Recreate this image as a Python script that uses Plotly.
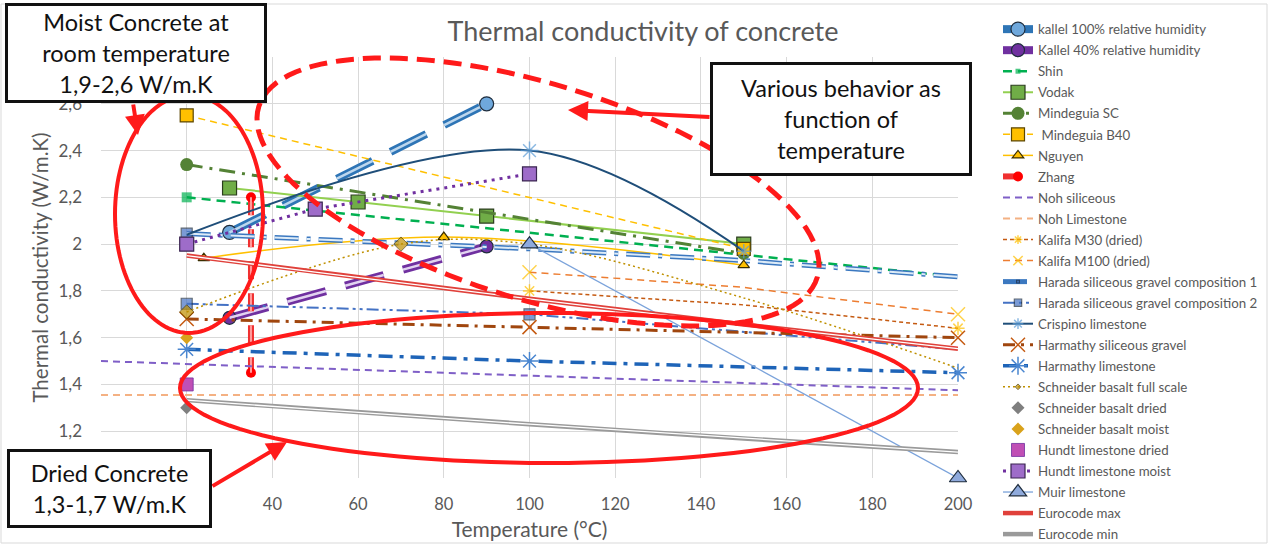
import math
import plotly.graph_objects as go

# ---------------- data ----------------
x_ticks = [0, 20, 40, 60, 80, 100, 120, 140, 160, 180, 200]
# labels at 0 and 20 are hidden behind the "Dried Concrete" box in the reference
x_ticktext = ["", "", "40", "60", "80", "100", "120", "140", "160", "180", "200"]
y_ticks = [1.0, 1.2, 1.4, 1.6, 1.8, 2.0, 2.2, 2.4, 2.6, 2.8]
# labels at 1 and 2,8 are hidden behind the text boxes in the reference
y_ticktext = ["", "1,2", "1,4", "1,6", "1,8", "2", "2,2", "2,4", "2,6", ""]

kallel100_x = [30, 90]
kallel100_y = [2.05, 2.60]
kallel40_x = [30, 90]
kallel40_y = [1.685, 1.99]
shin_x = [20, 200]
shin_y = [2.20, 1.86]
vodak_x = [30, 60, 90, 150]
vodak_y = [2.24, 2.18, 2.12, 2.00]
mindSC_x = [20, 150]
mindSC_y = [2.34, 1.96]
mindB40_x = [20, 150]
mindB40_y = [2.55, 1.98]
nguyen_x = [24, 80, 150]
nguyen_y = [1.94, 2.03, 1.91]
zhang_x = [35, 35]
zhang_y = [2.20, 1.45]
nohSil_x = [0, 200]
nohSil_y = [1.50, 1.375]
nohLim_x = [0, 200]
nohLim_y = [1.355, 1.355]
kalM30_x = [100, 150, 200]
kalM30_y = [1.80, 1.74, 1.64]
kalM100_x = [100, 150, 200]
kalM100_y = [1.88, 1.815, 1.70]
harada1_x = [20, 100, 150, 200]
harada1_y = [2.045, 1.98, 1.93, 1.86]
harada2_x = [20, 100, 200]
harada2_y = [1.745, 1.70, 1.55]
crispino_x = [20, 100, 150]
crispino_y = [2.04, 2.40, 1.97]
harmSil_x = [20, 100, 200]
harmSil_y = [1.68, 1.645, 1.60]
harmLim_x = [20, 100, 200]
harmLim_y = [1.55, 1.50, 1.45]
schFull_x = [20, 70, 100, 150, 200]
schFull_y = [1.71, 2.00, 2.00, 1.77, 1.47]
schDry_x = [20]
schDry_y = [1.30]
schMoist_x = [20]
schMoist_y = [1.60]
hundtDry_x = [20]
hundtDry_y = [1.40]
hundtMoist_x = [20, 50, 100]
hundtMoist_y = [2.00, 2.15, 2.30]
muir_x = [100, 200]
muir_y = [2.00, 1.00]
euroMax_x = [20, 50, 100, 150, 200]
euroMax_y = [1.951, 1.880, 1.766, 1.656, 1.553]
euroMin_x = [20, 50, 100, 150, 200]
euroMin_y = [1.333, 1.293, 1.230, 1.169, 1.111]

# ---------------- layout geometry ----------------
W, H = 1269, 545
PL, PR, PT, PB = 101, 958, 57, 478

def xp(px):
    return (px - PL) / (PR - PL)

def yp(py):
    return (PB - py) / (PB - PT)

FONT = "Lato"
GRAY = "#595959"
DARK = "#1F2D3D"

fig = go.Figure()
gi = [0]

def add(name, x, y, mode="lines+markers", line=None, marker=None, shape="linear", over=None):
    g = "g%d" % gi[0]
    gi[0] += 1
    ln = dict(line or {})
    ln["shape"] = shape
    fig.add_trace(go.Scatter(x=x, y=y, mode=mode, name=name, line=ln, marker=marker,
                             legendgroup=g, cliponaxis=False))
    if over is not None:
        ov = dict(over)
        ov["shape"] = shape
        fig.add_trace(go.Scatter(x=x, y=y, mode="lines", line=ov, showlegend=False,
                                 legendgroup=g, hoverinfo="skip", cliponaxis=False))

KD = "40px,20px"
add("kallel 100% relative humidity", kallel100_x, kallel100_y,
    line=dict(color="#2E75B6", width=8, dash=KD),
    marker=dict(symbol="circle", size=14, color="#6FA8DC", line=dict(color=DARK, width=1.2)),
    over=dict(color="#BDD7EE", width=2.5, dash=KD))
add("Kallel 40% relative humidity", kallel40_x, kallel40_y,
    line=dict(color="#7030A0", width=8, dash=KD),
    marker=dict(symbol="circle", size=13, color="#7030A0", line=dict(color=DARK, width=1.2)),
    over=dict(color="#E2D3F0", width=2.5, dash=KD))
add("Shin", shin_x, shin_y,
    line=dict(color="#00B050", width=2.5, dash="9px,6px"),
    marker=dict(symbol="square", size=[10, 0], color="#00B050", line=dict(width=0)))
add("Vodak", vodak_x, vodak_y,
    line=dict(color="#92D050", width=2),
    marker=dict(symbol="square", size=14, color="#70AD47", line=dict(color="#2B3D1E", width=1.2)))
add("Mindeguia SC", mindSC_x, mindSC_y,
    line=dict(color="#548235", width=3, dash="16px,7px,3px,7px"),
    marker=dict(symbol="circle", size=13, color="#548235", line=dict(color="#548235", width=0)))
add(" Mindeguia B40", mindB40_x, mindB40_y,
    line=dict(color="#FFC000", width=1.5, dash="7px,5px"),
    marker=dict(symbol="square", size=13, color="#FFC000", line=dict(color="#5C4600", width=1.2)))
add("Nguyen", nguyen_x, nguyen_y, shape="spline",
    line=dict(color="#FFC000", width=1.5),
    marker=dict(symbol="triangle-up", size=10, color="#FFC000", line=dict(color="#3A2E00", width=1.2)))
add("Zhang", zhang_x, zhang_y,
    line=dict(color="#F03030", width=6, dash="18px,14px"),
    marker=dict(symbol="circle", size=10, color="#FF0000", line=dict(width=0)),
    over=dict(color="#FF9C9C", width=2, dash="18px,14px"))
add("Noh siliceous", nohSil_x, nohSil_y, mode="lines",
    line=dict(color="#7F5FC7", width=2, dash="7px,5px"))
add("Noh Limestone", nohLim_x, nohLim_y, mode="lines",
    line=dict(color="#F4B183", width=2, dash="7px,5px"))
add("Kalifa M30 (dried)", kalM30_x, kalM30_y,
    line=dict(color="#C55A11", width=1.5, dash="4px,3px"),
    marker=dict(symbol="asterisk-open", size=[11, 0, 11], color="#FFC000", line=dict(color="#FFC000", width=1.5)))
add("Kalifa M100 (dried)", kalM100_x, kalM100_y,
    line=dict(color="#ED7D31", width=1.5, dash="7px,5px"),
    marker=dict(symbol="x-thin-open", size=[14, 0, 14], color="#FFC000", line=dict(color="#FFC000", width=1.5)))
H1D = "24px,8px,4px,8px"
add("Harada siliceous gravel composition 1", harada1_x, harada1_y,
    line=dict(color="#3B78C0", width=5, dash=H1D),
    marker=dict(symbol="square", size=[11, 0, 0, 0], color="#4472C4", line=dict(color=DARK, width=1.2)),
    over=dict(color="#DDEBF7", width=2, dash=H1D))
add("Harada siliceous gravel composition 2", harada2_x, harada2_y,
    line=dict(color="#4472C4", width=2, dash="12px,4px,3px,4px,3px,4px"),
    marker=dict(symbol="square", size=[11, 11, 0], color="#4472C4", line=dict(color=DARK, width=1.2)))
add("Crispino limestone", crispino_x, crispino_y, shape="spline",
    line=dict(color="#1F4E79", width=2),
    marker=dict(symbol="asterisk-open", size=[0, 15, 12], color="#5B9BD5", line=dict(color="#5B9BD5", width=1.5)))
add("Harmathy siliceous gravel", harmSil_x, harmSil_y,
    line=dict(color="#A0460E", width=3, dash="12px,6px,3px,6px"),
    marker=dict(symbol="x-thin-open", size=14, color="#C55A11", line=dict(color="#C55A11", width=1.5)))
add("Harmathy limestone", harmLim_x, harmLim_y,
    line=dict(color="#1E64B8", width=3.5, dash="14px,7px,4px,7px"),
    marker=dict(symbol="asterisk-open", size=15, color="#4A86D0", line=dict(color="#4A86D0", width=1.5)))
add("Schneider basalt full scale", schFull_x, schFull_y, shape="spline",
    line=dict(color="#BF9000", width=1.5, dash="2px,3px"),
    marker=dict(symbol="diamond", size=[11, 11, 0, 0, 0], color="#BF9000", line=dict(color="#4D3A00", width=1)))
add("Schneider basalt dried", schDry_x, schDry_y, mode="markers",
    marker=dict(symbol="diamond", size=10, color="#7F7F7F"))
add("Schneider basalt moist", schMoist_x, schMoist_y, mode="markers",
    marker=dict(symbol="diamond", size=10, color="#D9A21B"))
add("Hundt limestone dried", hundtDry_x, hundtDry_y, mode="markers",
    marker=dict(symbol="square", size=13, color="#C04FB5", line=dict(color="#7030A0", width=0.8)))
add("Hundt limestone moist", hundtMoist_x, hundtMoist_y,
    line=dict(color="#7030A0", width=3, dash="3px,5px"),
    marker=dict(symbol="square", size=14, color="#9E6CC9", line=dict(color="#3A2550", width=1.2)))
add("Muir limestone", muir_x, muir_y,
    line=dict(color="#7BA3DB", width=1.3),
    marker=dict(symbol="triangle-up", size=15, color="#8FAADC", line=dict(color="#1F2D3D", width=1.2)))
add("Eurocode max", euroMax_x, euroMax_y, mode="lines",
    line=dict(color="#E0413B", width=4.5),
    over=dict(color="#FFFFFF", width=1.3))
add("Eurocode min", euroMin_x, euroMin_y, mode="lines",
    line=dict(color="#9A9A9A", width=4.5),
    over=dict(color="#FFFFFF", width=1.3))

# ---------------- annotation shapes (ellipses) ----------------
def ellipse_path(cx, cy, a, b, ang_deg, n=120):
    t = math.radians(ang_deg)
    pts = []
    for i in range(n):
        s = 2 * math.pi * i / n
        ex, ey = a * math.cos(s), b * math.sin(s)
        px = cx + ex * math.cos(t) - ey * math.sin(t)
        py = cy + ex * math.sin(t) + ey * math.cos(t)
        pts.append("%.5f,%.5f" % (xp(px), yp(py)))
    return "M " + " L ".join(pts) + " Z"

shapes = [
    dict(type="rect", xref="paper", yref="paper", x0=xp(1), x1=xp(1267), y0=yp(543), y1=yp(4),
         line=dict(color="#D9D9D9", width=1), layer="below"),
    dict(type="path", xref="paper", yref="paper", path=ellipse_path(189, 214, 74, 119, 0),
         line=dict(color="#FF1A1A", width=4)),
    dict(type="path", xref="paper", yref="paper", path=ellipse_path(538, 192, 292, 108, 17),
         line=dict(color="#FF1A1A", width=5, dash="18px,9px")),
    dict(type="path", xref="paper", yref="paper", path=ellipse_path(549, 388, 369, 75, 0),
         line=dict(color="#FF1A1A", width=4)),
]

annotations = []
def arrow(hx, hy, tx, ty):
    annotations.append(dict(xref="paper", yref="paper", x=xp(hx), y=yp(hy), ax=tx - hx, ay=ty - hy,
                            text="", showarrow=True, arrowhead=2, arrowsize=1, arrowwidth=4,
                            arrowcolor="#FF1A1A", standoff=0))

arrow(138, 135, 133, 103)
arrow(568, 110, 711, 117)
arrow(287, 442, 211, 487)

def box(text, x0, y0, x1, y1):
    annotations.append(dict(xref="paper", yref="paper", x=xp((x0 + x1) / 2), y=yp((y0 + y1) / 2),
                            xanchor="center", yanchor="middle", text=text, showarrow=False,
                            width=(x1 - x0) - 8, height=(y1 - y0) - 8, align="center",
                            valign="middle",
                            bgcolor="white", bordercolor="#111111", borderwidth=3, borderpad=2,
                            font=dict(family=FONT, size=23.5, color="#111111")))

box("Moist Concrete at<br>room temperature<br>1,9-2,6 W/m.K", 6, 4, 266, 102)
box("Various behavior as<br>function of<br>temperature", 711, 63, 971, 175)
box("Dried Concrete<br>1,3-1,7 W/m.K", 8, 450, 211, 527)

fig.update_layout(
    template="none",
    width=W, height=H,
    margin=dict(l=PL, r=W - PR, t=PT, b=H - PB, autoexpand=False),
    paper_bgcolor="white", plot_bgcolor="white",
    font=dict(family=FONT, color=GRAY),
    title=dict(text="Thermal conductivity of concrete", x=643 / W, xanchor="center",
               y=1 - 32 / H, yanchor="middle", font=dict(size=27, color=GRAY)),
    xaxis=dict(range=[0, 200], tickvals=x_ticks, ticktext=x_ticktext, showgrid=True,
               gridcolor="#D9D9D9", gridwidth=1, zeroline=False, showline=False, automargin=False,
               tickfont=dict(size=16.5, color=GRAY), ticks="", ticklabelstandoff=14,
               title=dict(text="Temperature (°C)", font=dict(size=21, color=GRAY), standoff=9)),
    yaxis=dict(range=[1.0, 2.8], tickvals=y_ticks, ticktext=y_ticktext, showgrid=True,
               gridcolor="#D9D9D9", gridwidth=1, zeroline=False, showline=False, automargin=False,
               tickfont=dict(size=17, color=GRAY), ticks="", ticklabelstandoff=18,
               title=dict(text="Thermal conductivity (W/m.K)", font=dict(size=20.5, color=GRAY), standoff=4)),
    legend=dict(x=xp(998), xanchor="left", y=yp(14), yanchor="top", maxheight=700,
                font=dict(family=FONT, size=13.3, color=GRAY), traceorder="grouped",
                tracegroupgap=0.75, bgcolor="rgba(0,0,0,0)", itemwidth=30),
    shapes=shapes,
    annotations=annotations,
    showlegend=True,
)

fig.write_html("out.html", config={"displayModeBar": False},
               post_script="document.body.style.margin='0px';document.body.style.overflow='hidden';")
